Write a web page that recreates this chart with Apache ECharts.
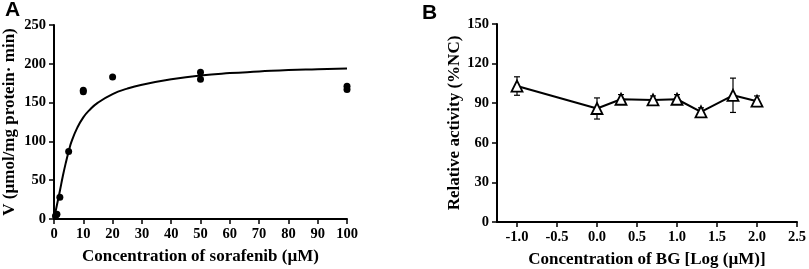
<!DOCTYPE html>
<html>
<head>
<meta charset="utf-8">
<script src="https://cdn.jsdelivr.net/npm/echarts@6/dist/echarts.min.js"></script>
<style>
  html, body { margin: 0; padding: 0; background: #fff; }
  #chart { width: 809px; height: 269px; }
</style>
</head>
<body>
<div id="chart"></div>
<script>
// panel A: measured points (x = sorafenib uM, y = V)
var pointsA = [[0.5, 4], [1, 6], [2, 28], [5, 87], [10, 164], [10, 166], [20, 183], [50, 189], [50, 180], [100, 171], [100, 167]];
// panel A: fitted curve
var curveX = [0, 1, 2, 3, 4, 5, 6, 8, 10, 12, 15, 20, 25, 30, 40, 50, 60, 70, 80, 90, 100];
var curveY = [0, 18, 36, 55, 72, 87, 100, 118, 131, 140, 150, 161, 168, 173, 180, 185, 188, 190, 192, 193, 194];

// panel B: log concentration, mean and error
var logConc = [-1.0, 0.0, 0.3, 0.7, 1.0, 1.3, 1.7, 2.0];
var relAct = [103, 86, 93, 92.5, 93, 83.5, 96, 91.5];
var relErr = [7, 8, 3.5, 3, 3.5, 3, 13, 4];
var xTicksB = [-1.0, -0.5, 0.0, 0.5, 1.0, 1.5, 2.0, 2.5];

var font = 'Liberation Serif';
var axisCommon = {
  axisLine: { show: true, onZero: false, lineStyle: { color: '#000', width: 2 } },
  axisTick: { show: true, inside: false, length: 5, lineStyle: { color: '#000', width: 1.5 } },
  axisLabel: { color: '#000', fontFamily: font, fontWeight: 'bold', fontSize: 14.5, margin: 8 },
  splitLine: { show: false },
  nameLocation: 'middle',
  nameTextStyle: { color: '#000', fontFamily: font, fontWeight: 'bold', fontSize: 17 }
};
function ax(extra) {
  return Object.assign({}, JSON.parse(JSON.stringify(axisCommon)), extra);
}

var curve = curveX.map(function (x, i) { return [x, curveY[i]]; });
var lineB = logConc.map(function (x, i) { return [x, relAct[i]]; });
var errB = logConc.map(function (x, i) { return [x, relAct[i] - relErr[i], relAct[i] + relErr[i]]; });

var xB = ax({
  gridIndex: 1, type: 'value', min: -1.25, max: 2.5,
  name: 'Concentration of BG [Log (\u00b5M)]', nameGap: 29
});
xB.axisLabel.customValues = xTicksB;
xB.axisLabel.formatter = function (v) { return v.toFixed(1); };
xB.axisTick.customValues = xTicksB;

var options = {
  animation: false,
  graphic: [
    { type: 'text', left: 5, top: 0, style: { text: 'A', font: 'bold 21px "Liberation Sans"', fill: '#000' } },
    { type: 'text', left: 422, top: 3, style: { text: 'B', font: 'bold 21px "Liberation Sans"', fill: '#000' } }
  ],
  grid: [
    { left: 54, top: 25, width: 293, bottom: 50, outerBoundsMode: 'none' },
    { left: 497, top: 24, width: 300, bottom: 47, outerBoundsMode: 'none' }
  ],
  xAxis: [
    ax({ gridIndex: 0, type: 'value', min: 0, max: 100, interval: 10,
      name: 'Concentration of sorafenib (\u00b5M)', nameGap: 29 }),
    xB
  ],
  yAxis: [
    ax({ gridIndex: 0, type: 'value', min: 0, max: 250, interval: 50,
      name: 'V (\u00b5mol/mg protein\u00b7 min)', nameGap: 36 }),
    ax({ gridIndex: 1, type: 'value', min: 0, max: 150, interval: 30,
      name: 'Relative activity (%NC)', nameGap: 32 })
  ],
  series: [
    {
      type: 'line', xAxisIndex: 0, yAxisIndex: 0, data: curve, smooth: true,
      showSymbol: false, lineStyle: { color: '#000', width: 2 }
    },
    {
      type: 'scatter', xAxisIndex: 0, yAxisIndex: 0, data: pointsA,
      symbol: 'circle', symbolSize: 7, itemStyle: { color: '#000', opacity: 1 }
    },
    {
      type: 'custom', xAxisIndex: 1, yAxisIndex: 1, data: errB, z: 1,
      renderItem: function (params, api) {
        var lo = api.coord([api.value(0), api.value(1)]);
        var hi = api.coord([api.value(0), api.value(2)]);
        var w = 3;
        var st = { stroke: '#000', lineWidth: 1.2 };
        return {
          type: 'group',
          children: [
            { type: 'line', shape: { x1: hi[0], y1: hi[1], x2: lo[0], y2: lo[1] }, style: st },
            { type: 'line', shape: { x1: hi[0] - w, y1: hi[1], x2: hi[0] + w, y2: hi[1] }, style: st },
            { type: 'line', shape: { x1: lo[0] - w, y1: lo[1], x2: lo[0] + w, y2: lo[1] }, style: st }
          ]
        };
      }
    },
    {
      type: 'line', xAxisIndex: 1, yAxisIndex: 1, data: lineB, z: 3,
      symbol: 'triangle', symbolSize: 11, showAllSymbol: true,
      lineStyle: { color: '#000', width: 2 },
      itemStyle: { color: '#fff', borderColor: '#000', borderWidth: 1.8 }
    }
  ]
};

var chart = echarts.init(document.getElementById('chart'));
chart.setOption(options);
</script>
</body>
</html>
